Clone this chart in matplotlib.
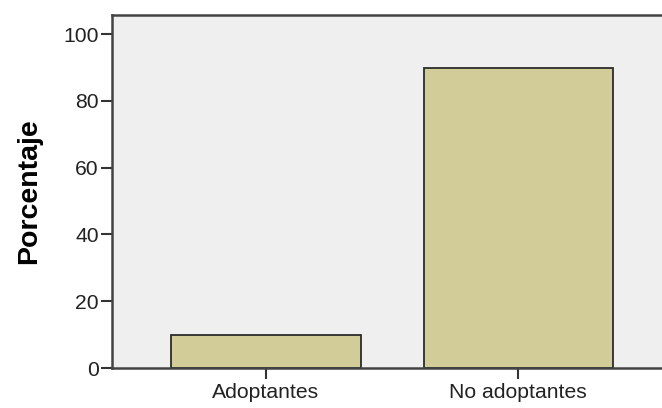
import matplotlib
matplotlib.use("Agg")
import matplotlib.pyplot as plt

categories = ["Adoptantes", "No adoptantes"]
percentages = [10, 90]

plt.rcParams["font.family"] = ["Liberation Sans", "DejaVu Sans"]

fig = plt.figure(figsize=(6.62, 4.08), dpi=100)
ax = fig.add_axes([0.1692, 0.098, 0.846, 0.865])
ax.set_facecolor("#efefef")

x = range(len(categories))
ax.bar(x, percentages, width=0.75, color="#d2cd98", edgecolor="#2b2b2b", linewidth=1.3)

ax.set_xlim(-0.611, 1.611)
ax.set_ylim(0, 105.7)
ax.set_xticks(list(x))
ax.set_xticklabels(categories, fontsize=15.2, color="#222222")
ax.set_yticks([0, 20, 40, 60, 80, 100])
ax.tick_params(axis="y", labelsize=15.2, length=8, width=1.5, colors="#333333", labelcolor="#222222", pad=1.5)
ax.tick_params(axis="x", length=8, width=1.5, colors="#333333", labelcolor="#222222", pad=3)
ax.set_ylabel("Porcentaje", fontsize=20.5, fontweight="bold", labelpad=15)

for side in ["left", "bottom", "top"]:
    ax.spines[side].set_color("#444444")
    ax.spines[side].set_linewidth(1.8)
ax.spines["right"].set_visible(False)

fig.savefig("out.png", dpi=100)
